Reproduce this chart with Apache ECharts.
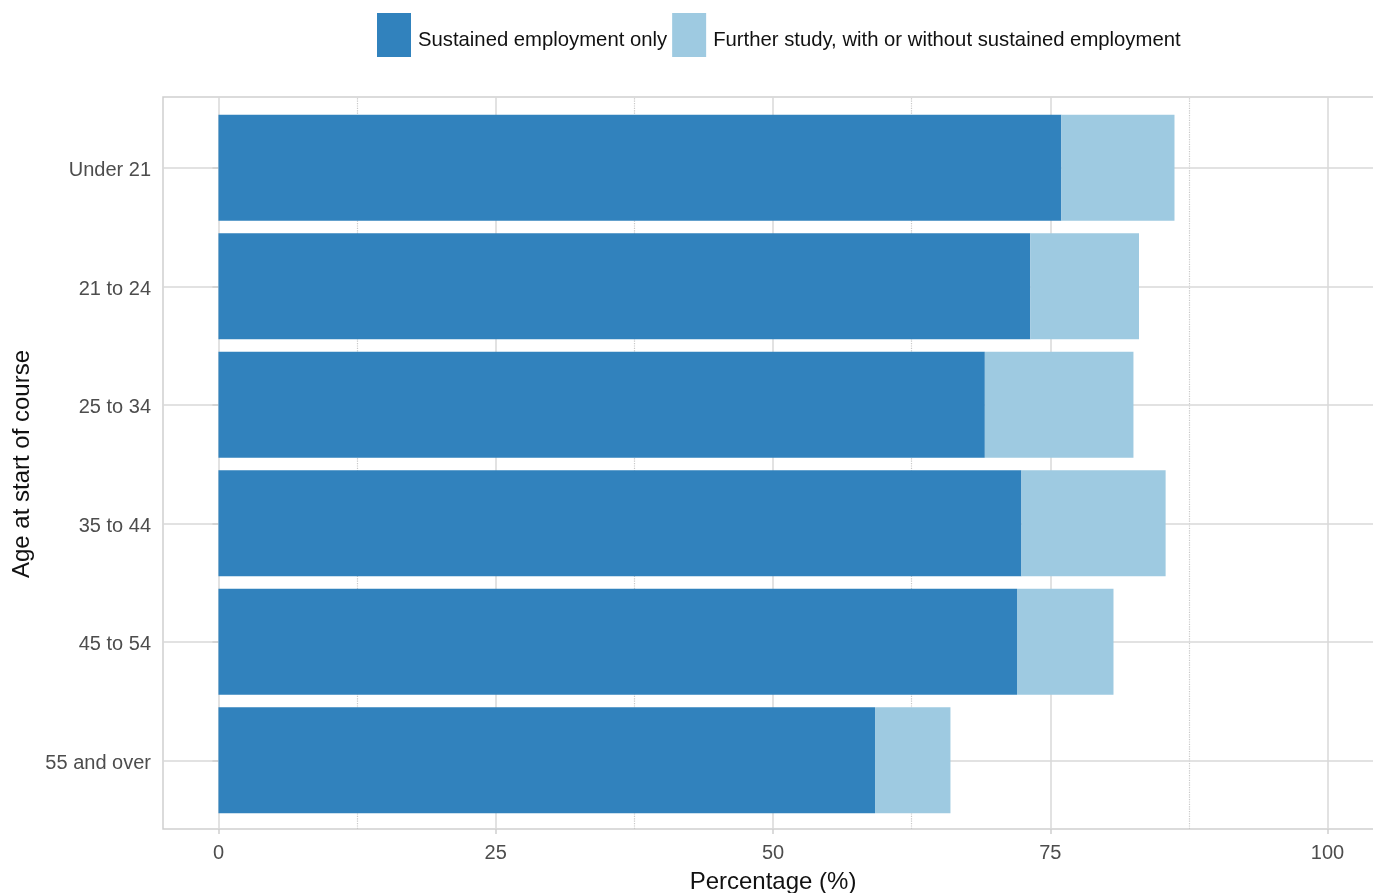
<!DOCTYPE html>
<html>
<head>
<meta charset="utf-8">
<script src="https://cdn.jsdelivr.net/npm/echarts@6/dist/echarts.min.js"></script>
<style>
  html, body { margin: 0; padding: 0; background: #fff; }
  #chart { width: 1373px; height: 893px; }
</style>
</head>
<body>
<div id="chart"></div>
<script>
const ages = ['Under 21', '21 to 24', '25 to 34', '35 to 44', '45 to 54', '55 and over'];
const sustainedOnly = [76.0, 73.2, 69.1, 72.4, 72.0, 59.2];
const furtherStudy = [10.2, 9.8, 13.4, 13.0, 8.7, 6.8];
const xTicks = [0, 25, 50, 75, 100];
const xMinor = [12.5, 37.5, 62.5, 87.5];

const FONT = "'Liberation Sans', Arial, sans-serif";
const GRID_MAJOR = '#d9d9d9';
const BORDER = '#cfcfcf';

const myChart = echarts.init(document.getElementById('chart'));

// vertical grid lines (major solid, minor dotted) across the whole panel
const vLines = xTicks.map(function (v) {
	return { xAxis: v, lineStyle: { type: 'solid', color: GRID_MAJOR, width: 1.5 } };
}).concat(xMinor.map(function (v) {
	return { xAxis: v, lineStyle: { type: 'dotted', color: '#c8c8c8', width: 1.2 } };
}));
// horizontal grid lines at each category
const hLines = ages.map(function (a) {
	return { yAxis: a };
});

const option = {
	animation: false,
	textStyle: { fontFamily: FONT },
	legend: {
		data: ['Sustained employment only', 'Further study, with or without sustained employment'],
		left: 372,
		top: 8,
		icon: 'rect',
		itemWidth: 34,
		itemHeight: 44,
		itemGap: 5,
		formatter: '{a|{name}}',
		textStyle: {
			fontSize: 20.3, color: '#111', fontFamily: FONT,
			rich: { a: { fontSize: 20.3, color: '#111', fontFamily: FONT, padding: [10, 0, 0, 2] } }
		}
	},
	grid: [{
		// panel (border + vertical lines)
		left: 163, top: 97, width: 1220, height: 732,
		show: true, borderColor: BORDER, borderWidth: 1.5,
		backgroundColor: 'transparent',
		outerBoundsMode: 'none'
	}, {
		// bars
		left: 163, top: 108.5, width: 1220, height: 711,
		outerBoundsMode: 'none'
	}],
	xAxis: [{
		gridIndex: 0,
		type: 'value',
		min: -5,
		max: 105,
		axisLine: { show: false },
		splitLine: { show: false },
		axisTick: {
			show: true, length: 5, customValues: xTicks,
			lineStyle: { color: BORDER, width: 1.5 }
		},
		axisLabel: {
			customValues: xTicks, fontSize: 20, color: '#4d4d4d', margin: 14, fontFamily: FONT
		},
		name: 'Percentage (%)',
		nameLocation: 'middle',
		nameGap: 41,
		nameTextStyle: { fontSize: 24, color: '#111', fontFamily: FONT }
	}, {
		gridIndex: 1,
		type: 'value',
		min: -5,
		max: 105,
		show: false,
		splitLine: { show: false }
	}],
	yAxis: [{
		gridIndex: 0,
		type: 'value',
		min: 0,
		max: 1,
		show: false,
		splitLine: { show: false }
	}, {
		gridIndex: 1,
		type: 'category',
		data: ages,
		inverse: true,
		axisLine: { show: false },
		splitLine: { show: false },
		axisTick: {
			show: true, alignWithLabel: true, length: 6,
			lineStyle: { color: BORDER, width: 1.5 }
		},
		axisLabel: {
			fontSize: 20, color: '#4d4d4d', margin: 12, fontFamily: FONT,
			formatter: '{a|{value}}',
			rich: { a: { fontSize: 20, color: '#4d4d4d', fontFamily: FONT, padding: [6, 0, 0, 0] } }
		},
		name: 'Age at start of course',
		nameLocation: 'middle',
		nameRotate: 90,
		nameGap: 125,
		nameTextStyle: { fontSize: 24, color: '#111', fontFamily: FONT }
	}],
	series: [{
		type: 'line',
		xAxisIndex: 0,
		yAxisIndex: 0,
		data: [],
		silent: true,
		z: 0,
		markLine: {
			silent: true,
			symbol: 'none',
			z: 0,
			label: { show: false },
			data: vLines
		}
	}, {
		type: 'line',
		xAxisIndex: 1,
		yAxisIndex: 1,
		data: [],
		silent: true,
		z: 0,
		markLine: {
			silent: true,
			symbol: 'none',
			z: 0,
			label: { show: false },
			lineStyle: { type: 'solid', color: GRID_MAJOR, width: 1.5 },
			data: hLines
		}
	}, {
		name: 'Sustained employment only',
		type: 'bar',
		stack: 'total',
		xAxisIndex: 1,
		yAxisIndex: 1,
		barWidth: '89.5%',
		z: 2,
		itemStyle: { color: '#3182bd' },
		data: sustainedOnly
	}, {
		name: 'Further study, with or without sustained employment',
		type: 'bar',
		stack: 'total',
		xAxisIndex: 1,
		yAxisIndex: 1,
		barWidth: '89.5%',
		z: 2,
		itemStyle: { color: '#9ecae1' },
		data: furtherStudy
	}]
};
myChart.setOption(option);
</script>
</body>
</html>
